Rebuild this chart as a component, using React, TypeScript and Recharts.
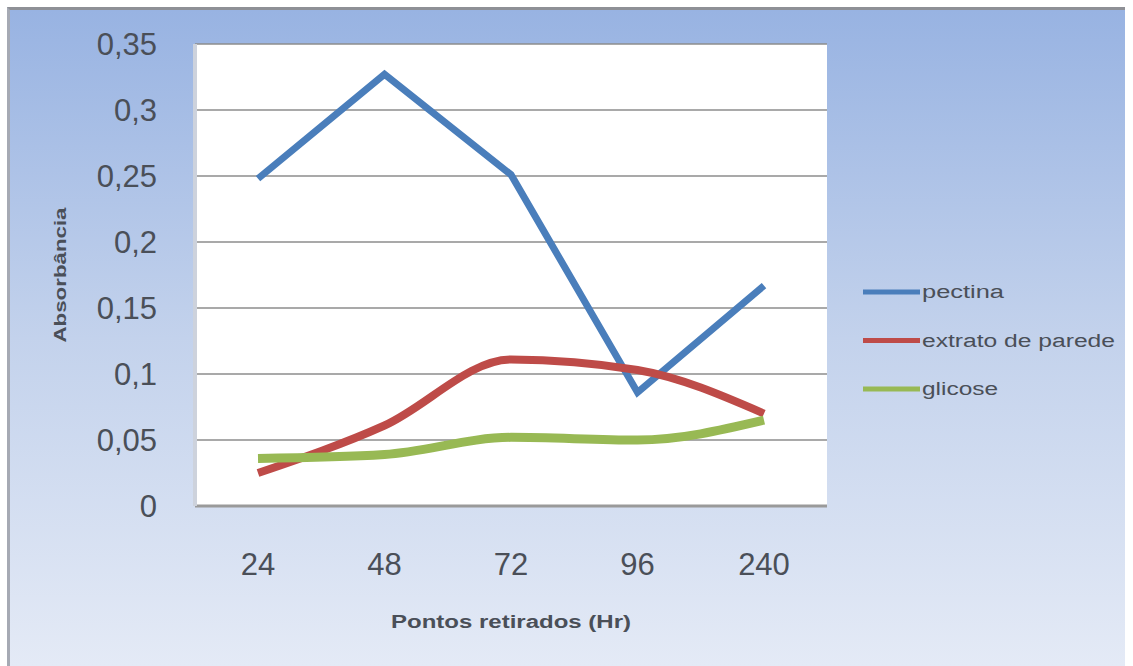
import { CartesianGrid, Line, LineChart, XAxis, YAxis } from "recharts";

const horas = ["24", "48", "72", "96", "240"];
const pectina = [0.248, 0.327, 0.251, 0.086, 0.167];
const extrato = [0.025, 0.061, 0.111, 0.103, 0.07];
const glicose = [0.036, 0.039, 0.052, 0.05, 0.065];
const yTicks = [0, 0.05, 0.1, 0.15, 0.2, 0.25, 0.3, 0.35];

const series = [
  { key: "pectina", name: "pectina", color: "#4a7ebb", width: 7, curve: "linear", textW: 82 },
  { key: "extrato", name: "extrato de parede", color: "#be4b48", width: 8, curve: "monotone", textW: 193 },
  { key: "glicose", name: "glicose", color: "#98b954", width: 9, curve: "monotone", textW: 76 },
];

const data = horas.map((h, i) => ({
  hora: h,
  pectina: pectina[i],
  extrato: extrato[i],
  glicose: glicose[i],
}));

const FONT = "'Liberation Sans', Arial, sans-serif";
const TXT = "#4a4f58";

function YTick({ x, y, payload }: any) {
  const v = String(payload.value).replace(".", ",");
  return (
    <text x={x - 30} y={y} dy={11} textAnchor="end" fontSize={31} fill={TXT} fontFamily={FONT}>
      {v}
    </text>
  );
}

function XTick({ x, y, payload }: any) {
  return (
    <text x={x} y={y} dy={61} textAnchor="middle" fontSize={31} fill={TXT} fontFamily={FONT}>
      {payload.value}
    </text>
  );
}

function XTitle({ viewBox }: any) {
  const cx = viewBox.x + viewBox.width / 2;
  return (
    <text
      x={cx}
      y={viewBox.y + 122}
      textAnchor="middle"
      fontSize={18}
      fontWeight="bold"
      fill={TXT}
      fontFamily={FONT}
      textLength={240}
      lengthAdjust="spacingAndGlyphs"
    >
      Pontos  retirados (Hr)
    </text>
  );
}

function YTitle({ viewBox }: any) {
  const cy = viewBox.y + viewBox.height / 2;
  return (
    <text
      x={60}
      y={cy}
      transform={`rotate(-90 60 ${cy})`}
      textAnchor="middle"
      dominantBaseline="central"
      fontSize={17}
      fontWeight="bold"
      fill={TXT}
      fontFamily={FONT}
      textLength={135}
      lengthAdjust="spacingAndGlyphs"
    >
      Absorbância
    </text>
  );
}

export default function App() {
  return (
    <div style={{ position: "absolute", left: 0, top: 0, width: 1133, height: 666, background: "#fff" }}>
      <div
        style={{
          position: "absolute",
          left: 7,
          top: 7,
          width: 1118,
          height: 659,
          boxSizing: "border-box",
          borderTop: "3px solid #8e9096",
          borderLeft: "3px solid #a6aab4",
          background: "linear-gradient(to bottom, #98b3e2 0%, #c3d2ec 50%, #e4eaf6 100%)",
        }}
      />
      <div style={{ position: "absolute", left: 0, top: 0 }}>
        <LineChart width={1133} height={666} data={data} margin={{ top: 44, right: 306, bottom: 0, left: 0 }}>
          <CartesianGrid vertical={false} stroke="#8c8c8c" strokeWidth={1.5} fill="#ffffff" />
          <XAxis
            dataKey="hora"
            padding={{ left: 63, right: 63 }}
            height={160}
            tickLine={false}
            axisLine={{ stroke: "#9a9a9a", strokeWidth: 3 }}
            tick={<XTick />}
            label={<XTitle />}
          />
          <YAxis
            width={195}
            domain={[0, 0.35]}
            ticks={yTicks}
            tickLine={false}
            axisLine={{ stroke: "#cdd2dc", strokeWidth: 4 }}
            tick={<YTick />}
            label={<YTitle />}
          />
          {series.map((s) => (
            <Line
              key={s.key}
              type={s.curve as any}
              dataKey={s.key}
              name={s.name}
              stroke={s.color}
              strokeWidth={s.width}
              dot={false}
              isAnimationActive={false}
            />
          ))}
        </LineChart>
      </div>
      <svg
        width={270}
        height={160}
        style={{ position: "absolute", left: 860, top: 268 }}
      >
        {series.map((s, i) => {
          const cy = 24 + i * 48.5;
          return (
            <g key={s.key}>
              <line x1={3} x2={60} y1={cy} y2={cy} stroke={s.color} strokeWidth={5} />
              <text
                x={62}
                y={cy + 6}
                fontSize={18}
                fill={TXT}
                fontFamily={FONT}
                textLength={s.textW}
                lengthAdjust="spacingAndGlyphs"
              >
                {s.name}
              </text>
            </g>
          );
        })}
      </svg>
    </div>
  );
}
